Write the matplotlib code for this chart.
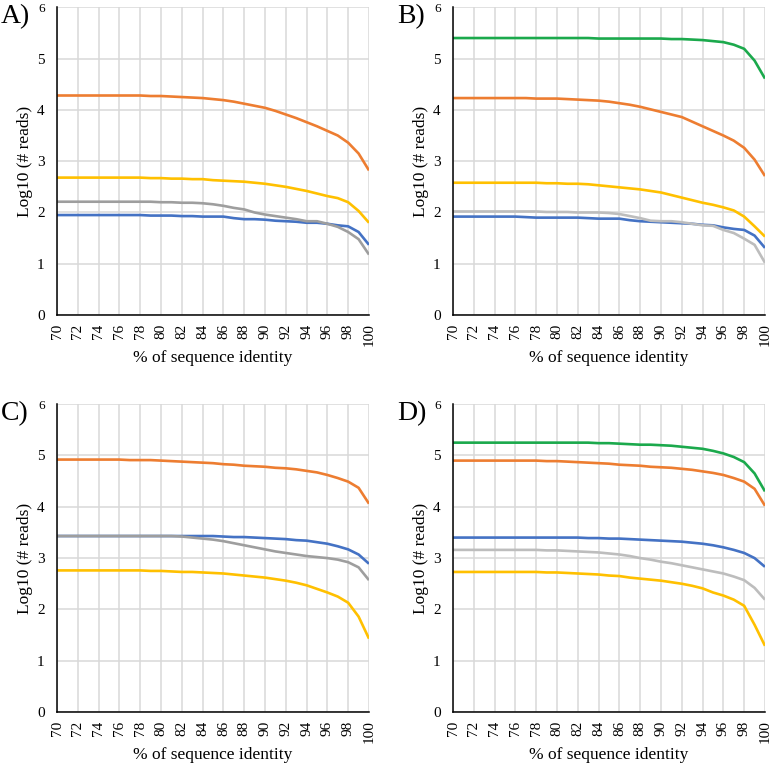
import numpy as np
import matplotlib.pyplot as plt

plt.rcParams['font.family'] = ['Liberation Serif', 'DejaVu Serif']

# % of sequence identity
identity = list(range(70, 101))
tick_labels = [str(v) for v in range(70, 101, 2)]

# Panel A
A_blue = [1.95, 1.95, 1.95, 1.95, 1.95, 1.95, 1.95, 1.95, 1.95, 1.94,
          1.94, 1.94, 1.93, 1.93, 1.92, 1.92, 1.92, 1.89, 1.87, 1.87,
          1.86, 1.84, 1.83, 1.82, 1.80, 1.80, 1.78, 1.75, 1.73, 1.62,
          1.37]
A_orange = [4.28, 4.28, 4.28, 4.28, 4.28, 4.28, 4.28, 4.28, 4.28, 4.27,
            4.27, 4.26, 4.25, 4.24, 4.23, 4.21, 4.19, 4.16, 4.12, 4.08,
            4.04, 3.98, 3.91, 3.84, 3.76, 3.68, 3.59, 3.50, 3.36, 3.15,
            2.82]
A_gray = [2.21, 2.21, 2.21, 2.21, 2.21, 2.21, 2.21, 2.21, 2.21, 2.21,
          2.20, 2.20, 2.19, 2.19, 2.18, 2.16, 2.13, 2.09, 2.06, 2.00,
          1.96, 1.93, 1.90, 1.87, 1.83, 1.83, 1.78, 1.72, 1.62, 1.48,
          1.18]
A_yellow = [2.68, 2.68, 2.68, 2.68, 2.68, 2.68, 2.68, 2.68, 2.68, 2.67,
            2.67, 2.66, 2.66, 2.65, 2.65, 2.63, 2.62, 2.61, 2.60, 2.58,
            2.56, 2.53, 2.50, 2.46, 2.42, 2.37, 2.32, 2.28, 2.20, 2.03,
            1.80]

# Panel B
B_blue = [1.92, 1.92, 1.92, 1.92, 1.92, 1.92, 1.92, 1.91, 1.90, 1.90,
          1.90, 1.90, 1.90, 1.89, 1.88, 1.88, 1.88, 1.85, 1.83, 1.82,
          1.81, 1.80, 1.79, 1.78, 1.76, 1.75, 1.71, 1.68, 1.66, 1.55,
          1.31]
B_orange = [4.23, 4.23, 4.23, 4.23, 4.23, 4.23, 4.23, 4.23, 4.22, 4.22,
            4.22, 4.21, 4.20, 4.19, 4.18, 4.16, 4.13, 4.10, 4.06, 4.01,
            3.96, 3.91, 3.86, 3.77, 3.68, 3.59, 3.50, 3.40, 3.26, 3.03,
            2.71]
B_gray = [2.02, 2.02, 2.02, 2.02, 2.02, 2.02, 2.02, 2.02, 2.02, 2.01,
          2.01, 2.01, 2.00, 2.00, 2.00, 1.99, 1.97, 1.93, 1.89, 1.84,
          1.83, 1.83, 1.81, 1.78, 1.75, 1.74, 1.66, 1.60, 1.49, 1.37,
          1.02]
B_yellow = [2.58, 2.58, 2.58, 2.58, 2.58, 2.58, 2.58, 2.58, 2.58, 2.57,
            2.57, 2.56, 2.56, 2.55, 2.53, 2.51, 2.49, 2.47, 2.45, 2.42,
            2.39, 2.34, 2.29, 2.24, 2.19, 2.15, 2.10, 2.04, 1.92, 1.73,
            1.53]
B_green = [5.40, 5.40, 5.40, 5.40, 5.40, 5.40, 5.40, 5.40, 5.40, 5.40,
           5.40, 5.40, 5.40, 5.40, 5.39, 5.39, 5.39, 5.39, 5.39, 5.39,
           5.39, 5.38, 5.38, 5.37, 5.36, 5.34, 5.32, 5.27, 5.19, 4.96,
           4.61]

# Panel C
C_blue = [3.43, 3.43, 3.43, 3.43, 3.43, 3.43, 3.43, 3.43, 3.43, 3.43,
          3.43, 3.43, 3.43, 3.43, 3.43, 3.43, 3.42, 3.41, 3.41, 3.40,
          3.39, 3.38, 3.37, 3.35, 3.34, 3.31, 3.28, 3.23, 3.17, 3.07,
          2.89]
C_orange = [4.92, 4.92, 4.92, 4.92, 4.92, 4.92, 4.92, 4.91, 4.91, 4.91,
            4.90, 4.89, 4.88, 4.87, 4.86, 4.85, 4.83, 4.82, 4.80, 4.79,
            4.78, 4.76, 4.75, 4.73, 4.70, 4.67, 4.62, 4.56, 4.49, 4.37,
            4.06]
C_gray = [3.43, 3.43, 3.43, 3.43, 3.43, 3.43, 3.43, 3.43, 3.43, 3.43,
          3.43, 3.43, 3.42, 3.40, 3.38, 3.36, 3.33, 3.29, 3.25, 3.21,
          3.17, 3.13, 3.10, 3.07, 3.04, 3.02, 3.00, 2.97, 2.92, 2.82,
          2.57]
C_yellow = [2.76, 2.76, 2.76, 2.76, 2.76, 2.76, 2.76, 2.76, 2.76, 2.75,
            2.75, 2.74, 2.73, 2.73, 2.72, 2.71, 2.70, 2.68, 2.66, 2.64,
            2.62, 2.59, 2.56, 2.52, 2.47, 2.40, 2.33, 2.25, 2.13, 1.86,
            1.43]

# Panel D
D_blue = [3.40, 3.40, 3.40, 3.40, 3.40, 3.40, 3.40, 3.40, 3.40, 3.40,
          3.40, 3.40, 3.40, 3.39, 3.39, 3.38, 3.38, 3.37, 3.36, 3.35,
          3.34, 3.33, 3.32, 3.30, 3.28, 3.25, 3.21, 3.16, 3.10, 3.00,
          2.83]
D_orange = [4.90, 4.90, 4.90, 4.90, 4.90, 4.90, 4.90, 4.90, 4.90, 4.89,
            4.89, 4.88, 4.87, 4.86, 4.85, 4.84, 4.82, 4.81, 4.80, 4.78,
            4.77, 4.76, 4.74, 4.72, 4.69, 4.66, 4.62, 4.56, 4.49, 4.35,
            4.02]
D_gray = [3.16, 3.16, 3.16, 3.16, 3.16, 3.16, 3.16, 3.16, 3.16, 3.15,
          3.15, 3.14, 3.13, 3.12, 3.11, 3.09, 3.07, 3.04, 3.00, 2.97,
          2.93, 2.90, 2.86, 2.82, 2.78, 2.74, 2.70, 2.64, 2.57, 2.42,
          2.19]
D_yellow = [2.73, 2.73, 2.73, 2.73, 2.73, 2.73, 2.73, 2.73, 2.73, 2.72,
            2.72, 2.71, 2.70, 2.69, 2.68, 2.66, 2.65, 2.62, 2.60, 2.58,
            2.56, 2.53, 2.50, 2.46, 2.41, 2.33, 2.27, 2.19, 2.07, 1.70,
            1.29]
D_green = [5.25, 5.25, 5.25, 5.25, 5.25, 5.25, 5.25, 5.25, 5.25, 5.25,
           5.25, 5.25, 5.25, 5.25, 5.24, 5.24, 5.23, 5.22, 5.21, 5.21,
           5.20, 5.19, 5.17, 5.15, 5.13, 5.09, 5.04, 4.97, 4.87, 4.65,
           4.30]

BLUE = '#4472C4'
ORANGE = '#ED7D31'
YELLOW = '#FFC000'
GREEN = '#1BA94C'

panels = [
    ('A)', [0.0735, 0.587], [(A_blue, BLUE), (A_orange, ORANGE), (A_gray, '#9E9E9E'), (A_yellow, YELLOW)]),
    ('B)', [0.5838, 0.587], [(B_blue, BLUE), (B_orange, ORANGE), (B_gray, '#BDBDBD'), (B_yellow, YELLOW), (B_green, GREEN)]),
    ('C)', [0.0735, 0.0668], [(C_blue, BLUE), (C_orange, ORANGE), (C_gray, '#9E9E9E'), (C_yellow, YELLOW)]),
    ('D)', [0.5838, 0.0668], [(D_blue, BLUE), (D_orange, ORANGE), (D_gray, '#BDBDBD'), (D_yellow, YELLOW), (D_green, GREEN)]),
]

fig = plt.figure(figsize=(7.76, 7.63), dpi=100)

for label, (left, bottom), series in panels:
    ax = fig.add_axes([left, bottom, 0.402, 0.4035])
    for values, color in series:
        ax.plot(identity, values, color=color, linewidth=1.9, solid_capstyle='butt')

    ax.set_xlim(70, 100)
    ax.set_ylim(0, 6)
    ax.set_xticks(range(70, 101, 2))
    ax.set_xticklabels(tick_labels, rotation=90)
    ax.set_yticks(range(0, 7))
    ax.tick_params(length=0, labelsize=11)
    ax.tick_params(axis='y', pad=9)
    ax.tick_params(axis='x', pad=6)
    # the top "6" is printed a bit smaller in the original figure
    ax.get_yticklabels()[-1].set_fontsize(9.5)
    ax.grid(True, color='#D9D9D9', linewidth=1.1)
    ax.set_axisbelow(True)
    for side in ['top', 'right']:
        ax.spines[side].set_visible(False)
    for side in ['left', 'bottom']:
        ax.spines[side].set_color('black')
        ax.spines[side].set_linewidth(1.1)
    ax.set_xlabel('% of sequence identity', fontsize=12.5, labelpad=3)
    ax.set_ylabel('Log10 (# reads)', fontsize=12.5, labelpad=3)
    ax.text(-0.18, 1.01, label, transform=ax.transAxes, fontsize=20,
            ha='left', va='top')

fig.savefig('out.png', dpi=100)
